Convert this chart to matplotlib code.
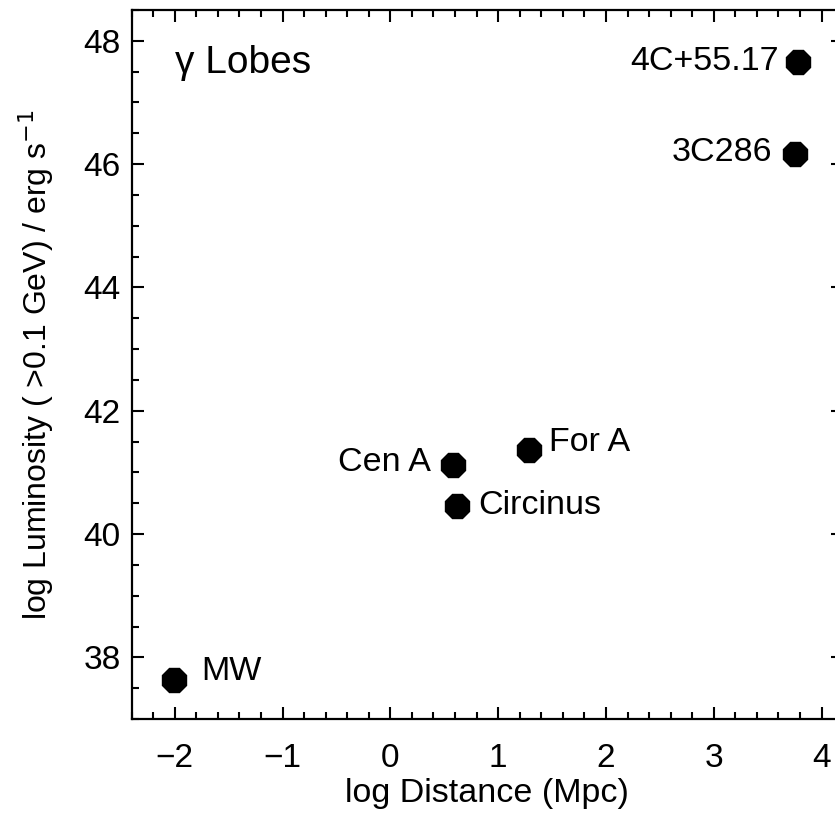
import matplotlib
matplotlib.use("Agg")
import matplotlib.pyplot as plt
from matplotlib.ticker import MultipleLocator

plt.rcParams['font.family'] = ['Liberation Sans', 'DejaVu Sans']

# --- data ---
names = ["MW", "Cen A", "Circinus", "For A", "3C286", "4C+55.17"]
log_dist = [-2.01, 0.58, 0.62, 1.29, 3.75, 3.78]
log_lum = [37.64, 41.12, 40.46, 41.37, 46.16, 47.65]
# label placement: offset in points and horizontal alignment
label_dx = [20, -16, 15, 14, -16, -14]
label_dy = [6, 2, 0, 5, 1, 1]
label_ha = ["left", "right", "left", "left", "right", "right"]

fig = plt.figure(figsize=(8.35, 8.13), dpi=100)
ax = fig.add_axes([0.1577, 0.1156, 0.852, 0.8721])

ax.plot(log_dist, log_lum, linestyle='none', marker='8', markersize=18.5,
        color='black')

for name, x, y, dx, dy, ha in zip(names, log_dist, log_lum, label_dx, label_dy, label_ha):
    ax.annotate(name, (x, y), xytext=(dx, dy), textcoords='offset points',
                ha=ha, va='center', fontsize=24.5)

ax.text(0.061, 0.925, "γ Lobes", transform=ax.transAxes, fontsize=28,
        ha='left', va='center')

ax.set_xlim(-2.4, 4.2)
ax.set_ylim(37.0, 48.5)
ax.xaxis.set_major_locator(MultipleLocator(1))
ax.xaxis.set_minor_locator(MultipleLocator(0.2))
ax.yaxis.set_major_locator(MultipleLocator(2))
ax.yaxis.set_minor_locator(MultipleLocator(0.5))

ax.tick_params(which='both', direction='in', top=True, right=True,
               width=1.5, labelsize=24)
ax.tick_params(which='major', length=8.6)
ax.tick_params(which='minor', length=5)
ax.tick_params(axis='y', pad=8)
ax.tick_params(axis='x', pad=17)
for s in ax.spines.values():
    s.set_linewidth(1.6)

ax.set_xlabel("log Distance (Mpc)", fontsize=24.5, labelpad=3)
ax.set_ylabel(r"log Luminosity ( >0.1 GeV) / erg s$^{-1}$", fontsize=23, labelpad=20)

fig.savefig("out.png", dpi=100)
